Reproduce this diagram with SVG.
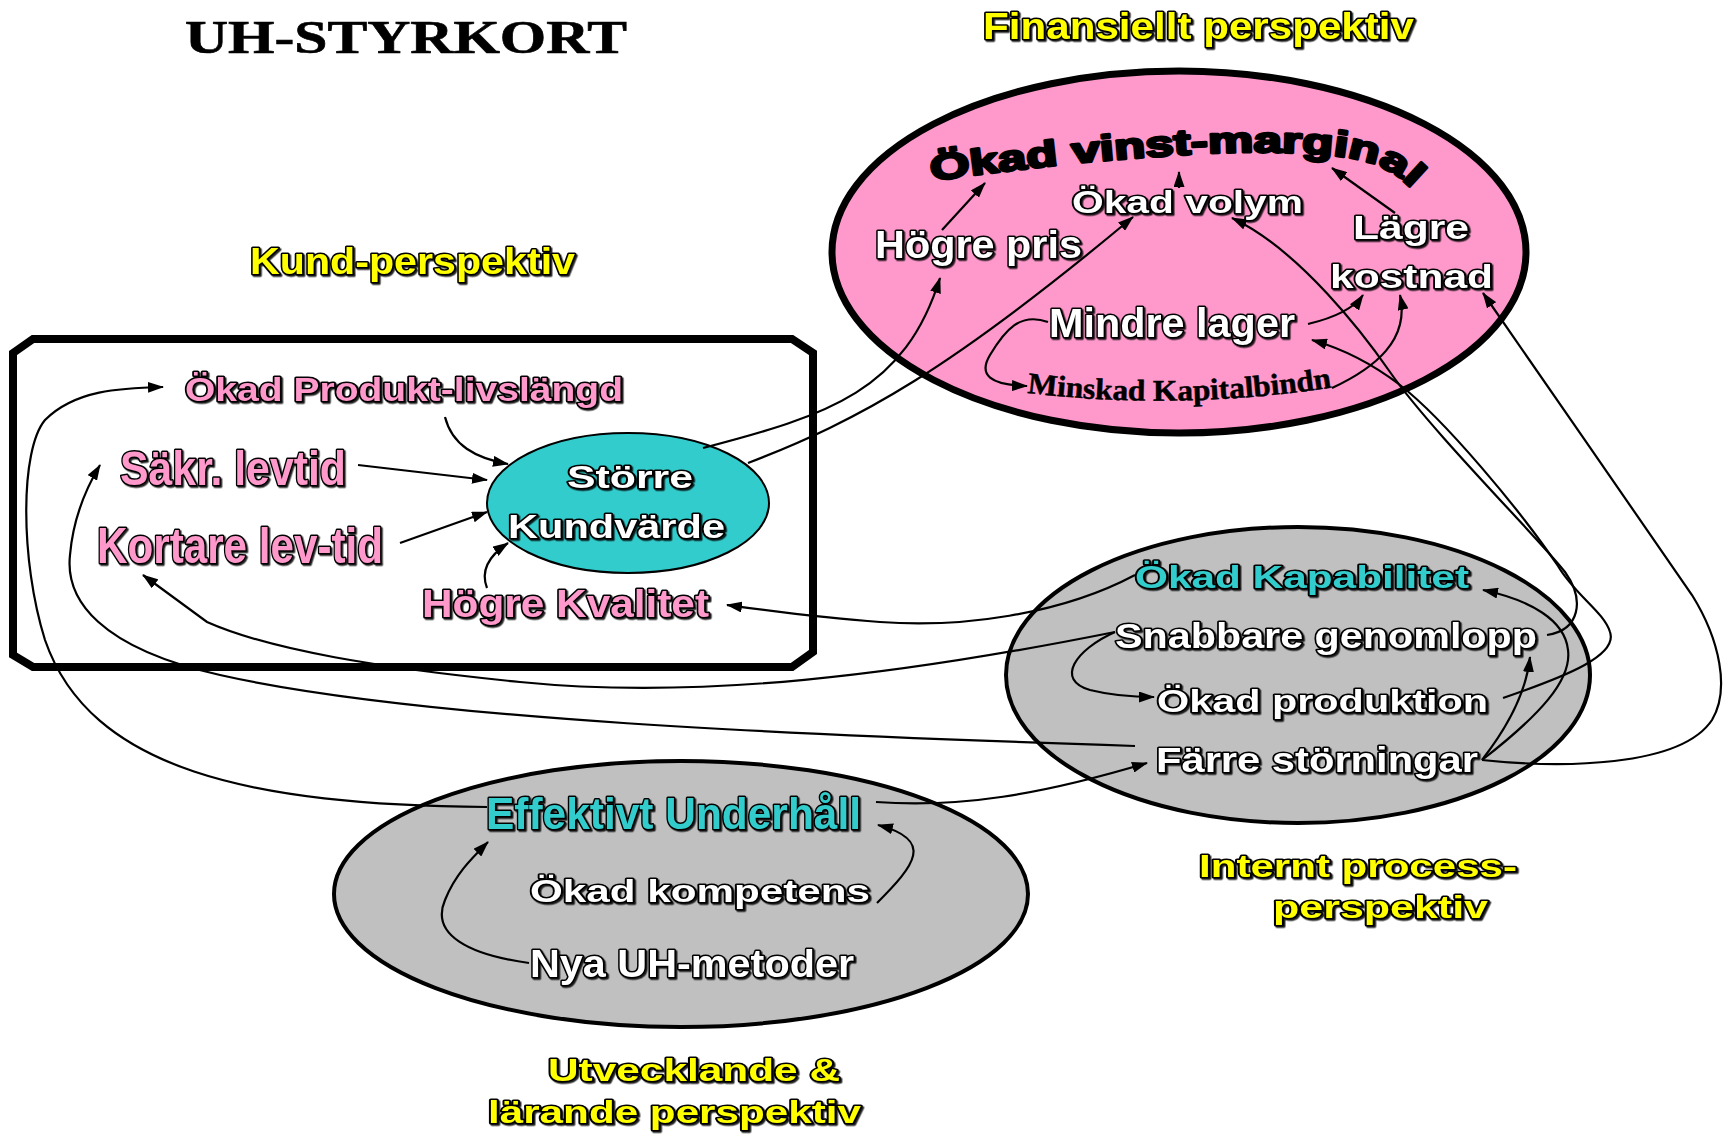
<svg xmlns="http://www.w3.org/2000/svg" width="1723" height="1134" viewBox="0 0 1723 1134">
  <defs>
    <marker id="ah" viewBox="0 0 16 11" refX="15" refY="5.5" markerWidth="16" markerHeight="11" markerUnits="userSpaceOnUse" orient="auto">
      <path d="M0,0 L16,5.5 L0,11 z" fill="#000"/>
    </marker>
    <filter id="sh" x="-5%" y="-20%" width="115%" height="150%">
      <feDropShadow dx="1.5" dy="1.5" stdDeviation="0.2" flood-color="#000" flood-opacity="0.85"/>
    </filter>
    <path id="arcVinst" d="M 932 181 C 1090 158, 1300 140, 1370 163 C 1395 171, 1410 185, 1425 205"/>
    <path id="arcKapital" d="M 1027 393 Q 1180 411 1335 387"/>
  </defs>
  <style>
    .lbl { font-family: "Liberation Sans", Arial, sans-serif; font-weight: bold; stroke: #000; stroke-width: 3; stroke-linejoin: round; paint-order: stroke fill; filter: url(#sh); }
    .w { fill: #ffffff; }
    .p { fill: #ff99cc; }
    .y { fill: #ffff00; }
    .t { fill: #33cccc; }
    .c { fill: none; stroke: #000; stroke-width: 2.2; marker-end: url(#ah); }
    .reg { stroke: #000; }
  </style>

  <rect width="1723" height="1134" fill="#ffffff"/>

  <!-- perspective areas -->
  <g id="regions">
    <ellipse id="area-finansiellt" class="reg" cx="1179" cy="252" rx="347" ry="181" fill="#ff99cc" stroke-width="7"/>
    <polygon id="area-kund" points="33,339 792,339 813,353 813,652 792,667 33,667 13,655 13,353" fill="none" stroke="#000" stroke-width="8"/>
    <ellipse id="area-intern" class="reg" cx="1298" cy="675" rx="292" ry="148" fill="#c0c0c0" stroke-width="4"/>
    <ellipse id="area-larande" class="reg" cx="681" cy="894" rx="347" ry="133" fill="#c0c0c0" stroke-width="4"/>
  </g>

  <g id="node-storre-kundvarde">
    <ellipse cx="628" cy="503" rx="141" ry="70" fill="#33cccc" stroke="#000" stroke-width="2"/>
  </g>

  <!-- cause-effect arrows -->
  <g id="connectors">
    <path class="c" d="M 942 230 L 985 183"/>
    <path class="c" d="M 1179 188 L 1179 172"/>
    <path class="c" d="M 1395 213 L 1332 168"/>
    <path class="c" d="M 703 448 C 830 415, 905 390, 940 278"/>
    <path class="c" d="M 748 463 C 860 420, 950 370, 1133 217"/>
    <path class="c" d="M 1308 324 Q 1350 314 1363 295"/>
    <path class="c" d="M 1332 388 C 1375 368, 1410 340, 1400 295"/>
    <path class="c" d="M 1547 635 C 1580 630, 1585 600, 1565 572 C 1545 545, 1430 430, 1390 372 C 1365 336, 1300 250, 1232 218"/>
    <path class="c" d="M 1503 698 C 1570 675, 1618 655, 1610 632 C 1604 612, 1575 595, 1558 566 C 1520 510, 1445 420, 1400 385 C 1370 362, 1340 348, 1312 340"/>
    <path class="c" d="M 1482 760 C 1560 768, 1680 768, 1712 720 C 1730 690, 1720 640, 1692 595 C 1640 520, 1540 375, 1483 293"/>
    <path class="c" d="M 1482 760 Q 1525 705 1530 657"/>
    <path class="c" d="M 1482 760 C 1540 715, 1572 680, 1568 650 C 1565 620, 1530 600, 1483 590"/>
    <path class="c" d="M 1135 575 C 1060 615, 960 628, 880 622 C 820 618, 770 611, 727 605"/>
    <path class="c" d="M 1115 632 C 900 675, 700 700, 520 682 C 380 668, 270 650, 207 622 L 143 575"/>
    <path class="c" d="M 1135 746 C 800 735, 420 720, 220 675 C 100 648, 65 600, 70 555 C 73 520, 85 490, 100 465"/>
    <path class="c" d="M 487 807 C 250 805, 90 770, 45 640 C 20 560, 20 450, 45 420 C 75 390, 120 388, 163 387"/>
    <path class="c" d="M 876 802 C 960 808, 1040 795, 1147 763"/>
    <path class="c" d="M 877 903 C 915 865, 935 840, 878 825"/>
    <path class="c" d="M 529 963 C 470 955, 430 935, 445 900 C 455 875, 470 860, 488 842"/>
    <path class="c" d="M 1115 632 C 1075 650, 1055 680, 1090 690 C 1110 695, 1130 697, 1154 697"/>
    <path class="c" d="M 1048 322 C 1020 312, 1005 330, 990 355 C 978 375, 990 385, 1027 386"/>
    <path class="c" d="M 445 417 C 452 445, 475 458, 508 464"/>
    <path class="c" d="M 358 465 L 487 480"/>
    <path class="c" d="M 400 543 L 487 512"/>
    <path class="c" d="M 487 588 C 480 570, 490 555, 508 543"/>
  </g>

  <!-- headings -->
  <g id="title">
    <text x="185" y="53" font-family="'Liberation Serif', 'Times New Roman', serif" font-weight="bold" font-size="46" fill="#000" stroke="#000" stroke-width="0.6" textLength="442" lengthAdjust="spacingAndGlyphs">UH-STYRKORT</text>
  </g>
  <g id="heading-finansiellt"><text class="lbl y" x="983" y="39" font-size="36" textLength="431" lengthAdjust="spacingAndGlyphs">Finansiellt perspektiv</text></g>
  <g id="heading-kund"><text class="lbl y" x="250" y="274" font-size="37" textLength="325" lengthAdjust="spacingAndGlyphs">Kund-perspektiv</text></g>
  <g id="heading-intern">
    <text class="lbl y" x="1199" y="877" font-size="31" textLength="318" lengthAdjust="spacingAndGlyphs">Internt process-</text>
    <text class="lbl y" x="1273" y="918" font-size="31" textLength="215" lengthAdjust="spacingAndGlyphs">perspektiv</text>
  </g>
  <g id="heading-larande">
    <text class="lbl y" x="548" y="1081" font-size="31" textLength="292" lengthAdjust="spacingAndGlyphs">Utvecklande &amp;</text>
    <text class="lbl y" x="488" y="1123" font-size="31" textLength="373" lengthAdjust="spacingAndGlyphs">lärande perspektiv</text>
  </g>

  <!-- financial perspective -->
  <g id="node-okad-vinstmarginal">
    <text font-family="'Liberation Sans', Arial, sans-serif" font-weight="bold" font-size="36" fill="#000" stroke="#000" stroke-width="2.6" stroke-linejoin="round"><textPath href="#arcVinst" textLength="490" lengthAdjust="spacingAndGlyphs">Ökad vinst-marginal</textPath></text>
  </g>
  <g id="node-okad-volym"><text class="lbl w" x="1072" y="213" font-size="31" textLength="231" lengthAdjust="spacingAndGlyphs">Ökad volym</text></g>
  <g id="node-hogre-pris"><text class="lbl w" x="875" y="258" font-size="39" textLength="207" lengthAdjust="spacingAndGlyphs">Högre pris</text></g>
  <g id="node-lagre-kostnad">
    <text class="lbl w" x="1353" y="239" font-size="34" textLength="116" lengthAdjust="spacingAndGlyphs">Lägre</text>
    <text class="lbl w" x="1330" y="288" font-size="34" textLength="163" lengthAdjust="spacingAndGlyphs">kostnad</text>
  </g>
  <g id="node-mindre-lager"><text class="lbl w" x="1049" y="337" font-size="40" textLength="246" lengthAdjust="spacingAndGlyphs">Mindre lager</text></g>
  <g id="node-minskad-kapitalbindn">
    <text font-family="'Liberation Serif', 'Times New Roman', serif" font-weight="bold" font-size="30" fill="#000" stroke="#000" stroke-width="0.5"><textPath href="#arcKapital" textLength="306" lengthAdjust="spacingAndGlyphs">Minskad Kapitalbindn</textPath></text>
  </g>

  <!-- customer perspective -->
  <g id="node-produkt-livslangd"><text class="lbl p" x="185" y="401" font-size="33" textLength="438" lengthAdjust="spacingAndGlyphs">Ökad Produkt-livslängd</text></g>
  <g id="node-sakr-levtid"><text class="lbl p" x="120" y="485" font-size="48" textLength="226" lengthAdjust="spacingAndGlyphs">Säkr. levtid</text></g>
  <g id="node-kortare-levtid"><text class="lbl p" x="97" y="563" font-size="50" textLength="286" lengthAdjust="spacingAndGlyphs">Kortare lev-tid</text></g>
  <g id="node-storre-kundvarde-text">
    <text class="lbl w" x="567" y="488" font-size="32" textLength="126" lengthAdjust="spacingAndGlyphs">Större</text>
    <text class="lbl w" x="508" y="538" font-size="33" textLength="217" lengthAdjust="spacingAndGlyphs">Kundvärde</text>
  </g>
  <g id="node-hogre-kvalitet"><text class="lbl p" x="422" y="617" font-size="38" textLength="287" lengthAdjust="spacingAndGlyphs">Högre Kvalitet</text></g>

  <!-- internal process perspective -->
  <g id="node-okad-kapabilitet"><text class="lbl t" x="1135" y="588" font-size="32" textLength="334" lengthAdjust="spacingAndGlyphs">Ökad Kapabilitet</text></g>
  <g id="node-snabbare-genomlopp"><text class="lbl w" x="1115" y="648" font-size="35" textLength="422" lengthAdjust="spacingAndGlyphs">Snabbare genomlopp</text></g>
  <g id="node-okad-produktion"><text class="lbl w" x="1157" y="712" font-size="31" textLength="331" lengthAdjust="spacingAndGlyphs">Ökad produktion</text></g>
  <g id="node-farre-storningar"><text class="lbl w" x="1156" y="772" font-size="35" textLength="322" lengthAdjust="spacingAndGlyphs">Färre störningar</text></g>

  <!-- learning perspective -->
  <g id="node-effektivt-underhall"><text class="lbl t" x="486" y="829" font-size="45" textLength="375" lengthAdjust="spacingAndGlyphs">Effektivt Underhåll</text></g>
  <g id="node-okad-kompetens"><text class="lbl w" x="530" y="902" font-size="32" textLength="340" lengthAdjust="spacingAndGlyphs">Ökad kompetens</text></g>
  <g id="node-nya-uh-metoder"><text class="lbl w" x="530" y="977" font-size="39" textLength="324" lengthAdjust="spacingAndGlyphs">Nya UH-metoder</text></g>
</svg>
